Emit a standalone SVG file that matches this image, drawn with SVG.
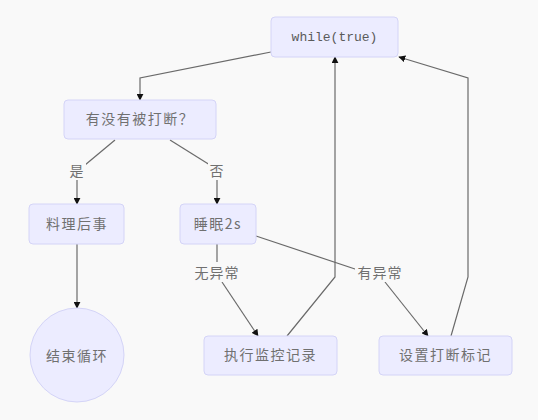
<svg xmlns="http://www.w3.org/2000/svg" width="538" height="420" viewBox="0 0 538 420">
<defs>
<style>
.node rect,.node circle{fill:#ECECFF;stroke:#D4D4F7;stroke-width:1}
.t{font-family:"Noto Sans CJK SC","Liberation Sans",sans-serif;font-size:14px;fill:#707070;text-anchor:middle;dominant-baseline:central;letter-spacing:1.5px}
.m{font-family:"Liberation Mono","DejaVu Sans Mono",monospace;font-size:13px;fill:#5a5a5a;text-anchor:middle;dominant-baseline:central}
.e{fill:none;stroke:#6a6a6a;stroke-width:1.2}
.lb{fill:#f9f9f9}
.lt{font-family:"Noto Sans CJK SC","Liberation Sans",sans-serif;font-size:14px;fill:#707070;text-anchor:middle;dominant-baseline:central;letter-spacing:1px}
</style>
<marker id="a" viewBox="0 0 10 10" refX="9" refY="5" markerWidth="7" markerHeight="7" orient="auto-start-reverse" markerUnits="userSpaceOnUse">
<path d="M0,0 L10,5 L0,10 z" fill="#111"/>
</marker>
</defs>
<rect x="0" y="0" width="538" height="420" fill="#f9f9f9"/>
<g id="connectors">
<path class="e" d="M271,52 L140,78 L140,100" marker-end="url(#a)"/>
<path class="e" d="M115,140 L85,165"/>
<path class="e" d="M77,178 L77,204" marker-end="url(#a)"/>
<path class="e" d="M170,140 L210,165"/>
<path class="e" d="M217,178 L217,204" marker-end="url(#a)"/>
<path class="e" d="M77,244 L77,308" marker-end="url(#a)"/>
<path class="e" d="M217,244 L217,262"/>
<path class="e" d="M222,282 L258,336" marker-end="url(#a)"/>
<path class="e" d="M256,236 L358,270"/>
<path class="e" d="M385,282 L428,336" marker-end="url(#a)"/>
<path class="e" d="M287,336 L335,277 L335,57" marker-end="url(#a)"/>
<path class="e" d="M451,336 L468,277 L468,78 L399,57" marker-end="url(#a)"/>
<rect class="lb" x="68" y="160" width="18" height="20"/>
<text class="lt" x="77" y="170">是</text>
<rect class="lb" x="208" y="160" width="18" height="20"/>
<text class="lt" x="217" y="170">否</text>
<rect class="lb" x="192" y="262" width="50" height="20"/>
<text class="lt" x="217" y="272">无异常</text>
<rect class="lb" x="355" y="262" width="50" height="20"/>
<text class="lt" x="380" y="272">有异常</text>
</g>
<g id="while" class="node"><rect x="271" y="17" width="127" height="40" rx="4"/><text class="m" x="334.5" y="37">while(true)</text></g>
<g id="interrupted" class="node"><rect x="64" y="100" width="152" height="39" rx="4"/><text class="t" x="140" y="118">有没有被打断？</text></g>
<g id="cleanup" class="node"><rect x="29" y="204" width="95" height="40" rx="4"/><text class="t" x="77" y="223">料理后事</text></g>
<g id="sleep" class="node"><rect x="180" y="204" width="76" height="40" rx="4"/><text class="t" x="218" y="223">睡眠2s</text></g>
<g id="end" class="node"><circle cx="77" cy="355" r="47"/><text class="t" x="77" y="355">结束循环</text></g>
<g id="monitor" class="node"><rect x="204" y="336" width="133" height="39" rx="4"/><text class="t" x="270.5" y="354">执行监控记录</text></g>
<g id="setflag" class="node"><rect x="379" y="336" width="133" height="39" rx="4"/><text class="t" x="445.5" y="354">设置打断标记</text></g>
</svg>
